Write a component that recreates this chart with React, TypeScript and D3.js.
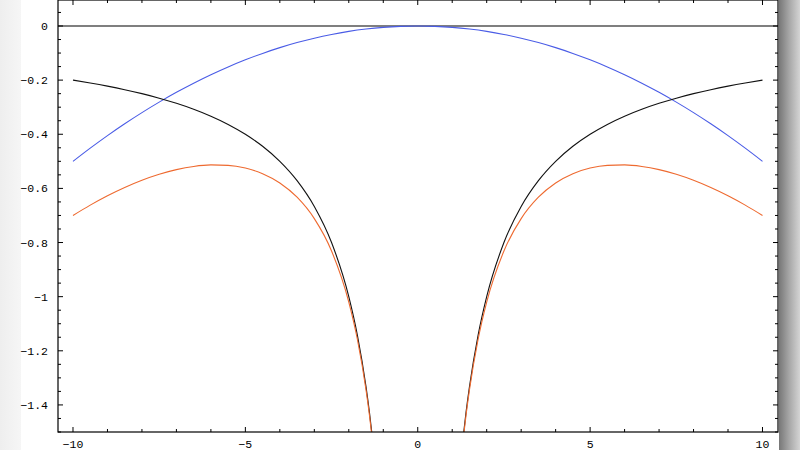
import React from "react";
import * as d3 from "d3";

// |x| sample positions for the two branches (left branch uses negated values)
const branchAbsX = [10, 9.5, 9, 8.5, 8, 7.5, 7, 6.5, 6, 5.5, 5, 4.5, 4, 3.5, 3, 2.5, 2, 1.75, 1.5, 1.4, 1.3, 1.25];
const blackY = [-0.2, -0.2105, -0.2222, -0.2353, -0.25, -0.2667, -0.2857, -0.3077, -0.3333, -0.3636, -0.4, -0.4444, -0.5, -0.5714, -0.6667, -0.8, -1.0, -1.1429, -1.3333, -1.4286, -1.5385, -1.6];
const orangeY = [-0.7, -0.6618, -0.6272, -0.5966, -0.57, -0.5479, -0.5307, -0.5189, -0.5133, -0.5149, -0.525, -0.5457, -0.58, -0.6327, -0.7117, -0.8313, -1.02, -1.1582, -1.3446, -1.4384, -1.547, -1.6078];

const blueX = [-10, -9.5, -9, -8.5, -8, -7.5, -7, -6.5, -6, -5.5, -5, -4.5, -4, -3.5, -3, -2.5, -2, -1.5, -1, -0.5, 0, 0.5, 1, 1.5, 2, 2.5, 3, 3.5, 4, 4.5, 5, 5.5, 6, 6.5, 7, 7.5, 8, 8.5, 9, 9.5, 10];
const blueY = [-0.5, -0.4513, -0.405, -0.3613, -0.32, -0.2813, -0.245, -0.2113, -0.18, -0.1513, -0.125, -0.1013, -0.08, -0.0613, -0.045, -0.0313, -0.02, -0.0113, -0.005, -0.0013, 0, -0.0013, -0.005, -0.0113, -0.02, -0.0313, -0.045, -0.0613, -0.08, -0.1013, -0.125, -0.1513, -0.18, -0.2113, -0.245, -0.2813, -0.32, -0.3613, -0.405, -0.4513, -0.5];

const xMajorTicks = [-10, -5, 0, 5, 10];
const xMinorTicks = d3.range(-10, 11, 1);
const yMajorTicks = [0, -0.2, -0.4, -0.6, -0.8, -1, -1.2, -1.4];
const yMinorTicks = d3.range(0.05, -1.51, -0.05).map((v) => Math.round(v * 100) / 100);

const W = 800;
const H = 450;
const left = 58;
const right = 778;
const top = 0;
const bottom = 432;

export default function App() {
  const x = d3.scaleLinear().domain([-10.435, 10.45]).range([left, right]);
  const y = d3.scaleLinear().domain([0.096, -1.5]).range([top, bottom]);

  const line = d3
    .line<[number, number]>()
    .x((d) => x(d[0]))
    .y((d) => y(d[1]))
    .curve(d3.curveMonotoneX);

  const rightBranch = (ys: number[]) =>
    branchAbsX.map((v, i) => [v, ys[i]] as [number, number]).reverse();
  const leftBranch = (ys: number[]) =>
    branchAbsX.map((v, i) => [-v, ys[i]] as [number, number]);

  const blue = blueX.map((v, i) => [v, blueY[i]] as [number, number]);

  const fmt = (v: number) => (v === 0 ? "0" : String(v).replace("-", "\u2212"));
  const font = "'Liberation Mono', 'DejaVu Sans Mono', monospace";

  return (
    <svg
      width={W}
      height={H}
      style={{ position: "fixed", left: 0, top: 0, display: "block", background: "#fff" }}
    >
      <defs>
        <linearGradient id="lg" x1="0" x2="1" y1="0" y2="0">
          <stop offset="0" stopColor="#eeeeee" />
          <stop offset="1" stopColor="#f6f6f6" />
        </linearGradient>
        <linearGradient id="rg" x1="0" x2="1" y1="0" y2="0">
          <stop offset="0" stopColor="#777777" />
          <stop offset="0.5" stopColor="#a8a8a8" />
          <stop offset="1" stopColor="#d4d4d4" />
        </linearGradient>
        <clipPath id="plot">
          <rect x={left} y={top} width={right - left} height={bottom - top} />
        </clipPath>
      </defs>
      <rect x={0} y={0} width={21} height={H} fill="url(#lg)" />
      <rect x={779} y={0} width={21} height={H} fill="url(#rg)" />

      <g clipPath="url(#plot)" fill="none" strokeWidth={1.1}>
        <line x1={left} x2={right} y1={y(0)} y2={y(0)} stroke="#000" strokeWidth={1.2} />
        <path d={line(blue) || ""} stroke="#4a5ce6" />
        <path d={line(leftBranch(blackY)) || ""} stroke="#111" />
        <path d={line(rightBranch(blackY)) || ""} stroke="#111" />
        <path d={line(leftBranch(orangeY)) || ""} stroke="#ee6a30" />
        <path d={line(rightBranch(orangeY)) || ""} stroke="#ee6a30" />
      </g>

      {/* frame */}
      <rect x={left} y={top} width={right - left} height={bottom - top} fill="none" stroke="#000" strokeWidth={1.2} />

      {/* x ticks */}
      {xMinorTicks.map((t) => {
        const major = xMajorTicks.includes(t);
        const len = major ? 5 : 3;
        return (
          <g key={"xt" + t} stroke="#000" strokeWidth={1}>
            <line x1={x(t)} x2={x(t)} y1={bottom} y2={bottom - len} />
            <line x1={x(t)} x2={x(t)} y1={top} y2={top + len} />
          </g>
        );
      })}
      {/* y ticks */}
      {yMinorTicks.map((t) => {
        const major = yMajorTicks.some((m) => Math.abs(m - t) < 1e-6);
        const len = major ? 5 : 3;
        return (
          <g key={"yt" + t} stroke="#000" strokeWidth={1}>
            <line x1={left} x2={left + len} y1={y(t)} y2={y(t)} />
            <line x1={right} x2={right - len} y1={y(t)} y2={y(t)} />
          </g>
        );
      })}

      {xMajorTicks.map((t) => (
        <text key={"xl" + t} x={x(t)} y={448} textAnchor="middle" fontFamily={font} fontSize={11.5} fill="#000">
          {fmt(t)}
        </text>
      ))}
      {yMajorTicks.map((t) => (
        <text key={"yl" + t} x={48} y={y(t) + 4} textAnchor="end" fontFamily={font} fontSize={11.5} fill="#000">
          {fmt(t)}
        </text>
      ))}
    </svg>
  );
}
